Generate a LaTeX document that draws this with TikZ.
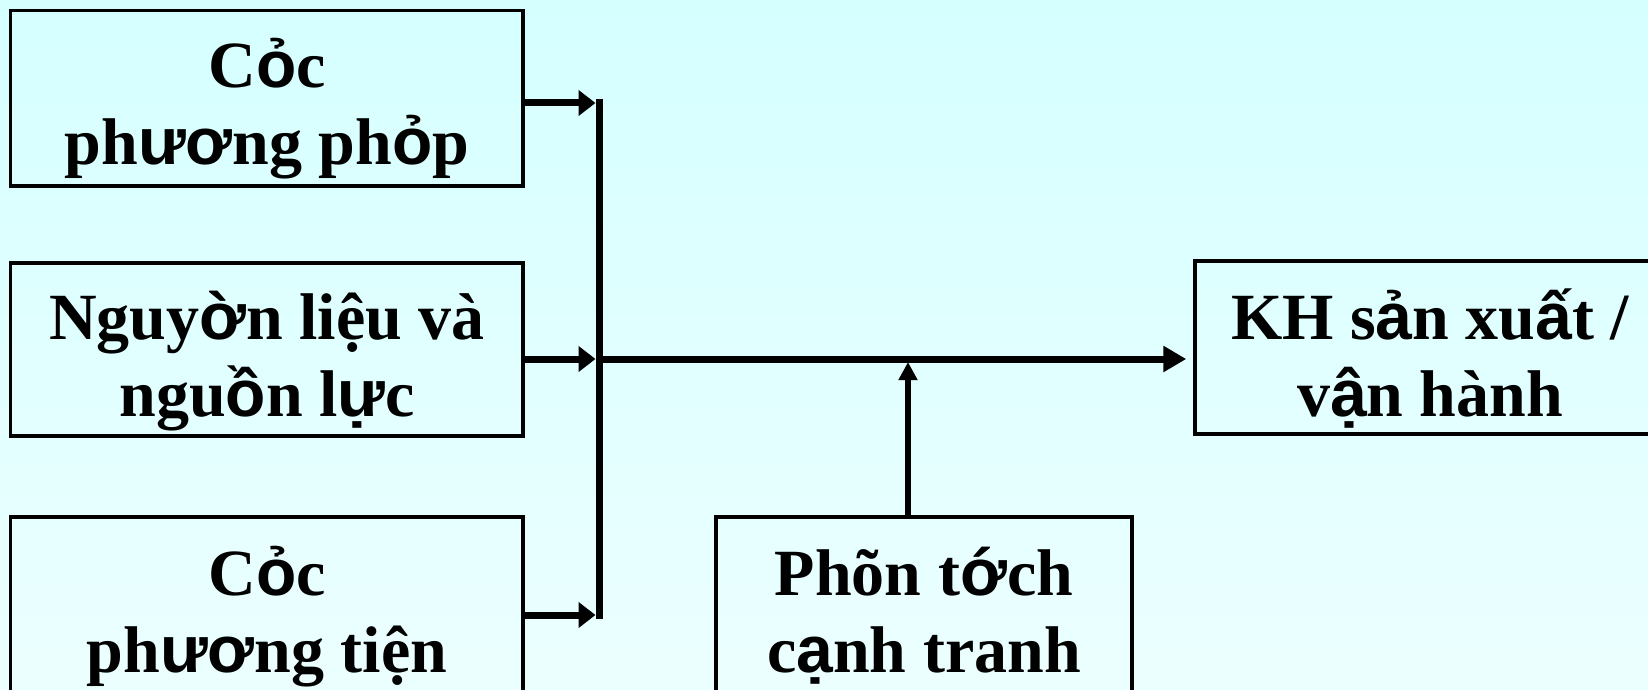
\documentclass[tikz,border=0pt]{standalone}
\usepackage{fontspec}
\setmainfont{Liberation Serif}
\newfontfamily\vnsans{Liberation Sans}
\newcommand\sv[1]{{\vnsans\bfseries #1}}
\usetikzlibrary{arrows.meta}
\definecolor{bgtop}{RGB}{213,255,255}
\definecolor{bgbot}{RGB}{236,255,255}
\tikzset{
  box/.style={draw=black, line width=1.75pt, inner sep=0pt, rectangle},
  lbl/.style={anchor=north, inner sep=0pt, align=center,
    font=\fontsize{33}{38.5}\selectfont\bfseries},
  feed/.style={line width=3.5pt, -{Triangle[length=8.5pt,width=12.5pt]}, shorten >=1.75pt},
  busline/.style={line width=3.5pt},
  mainarr/.style={line width=3.5pt, -{Triangle[length=11.5pt,width=12.5pt]}, shorten >=3.5pt},
  uparr/.style={line width=3pt, -{Triangle[length=9pt,width=9pt]}}
}
\newcommand\st{\rule{0pt}{30pt}}
\begin{document}
\begin{tikzpicture}[x=0.5pt,y=-0.5pt]
\useasboundingbox (0,0) rectangle (1648,690);
\shade[top color=bgtop, bottom color=bgbot] (0,0) rectangle (1648,690);
% boxes
\node[box, minimum width=256.25pt, minimum height=87.75pt] (b1) at (266.75,98.25) {};
\node[box, minimum width=256.25pt, minimum height=86.5pt] (b2) at (266.75,349.5) {};
\node[box, minimum width=256.25pt, minimum height=89pt] (b3) at (266.75,606) {};
\node[box, minimum width=208pt, minimum height=89pt] (b4) at (924,606) {};
\node[box, minimum width=232pt, minimum height=86.5pt] (b5) at (1427,347.5) {};
% labels
\node[lbl] (t1) at (267,27) {\st C\sv{ỏ}c\\ph\sv{ươ}ng ph\sv{ỏ}p};
\node[lbl] (t2) at (267,279) {\st Nguy\sv{ờ}n liệu và\\ngu\sv{ồ}n l\sv{ự}c};
\node[lbl] (t3) at (267,535) {\st C\sv{ỏ}c\\ph\sv{ươ}ng tiện};
\node[lbl] (t4) at (924,535) {\st Phõn t\sv{ớ}ch\\c\sv{ạ}nh tranh};
\node[lbl] (t5) at (1430,279) {\st KH s\sv{ả}n xu\sv{ấ}t /\\v\sv{ậ}n hành};
% junction coordinates
\coordinate (busT) at (599,99);
\coordinate (busB) at (599,619);
\coordinate (j1) at (599,103);
\coordinate (j2) at (599,359);
\coordinate (j3) at (599,615);
\coordinate (jv) at (908,362);
% connectors
\draw[busline] (busT) -- (busB);
\draw[feed] (b1.east |- j1) -- (j1);
\draw[feed] (b2.east |- j2) -- (j2);
\draw[feed] (b3.east |- j3) -- (j3);
\draw[mainarr] (j2) -- (b5.west |- j2);
\draw[uparr] (b4.north -| jv) -- (jv);
\end{tikzpicture}
\end{document}
